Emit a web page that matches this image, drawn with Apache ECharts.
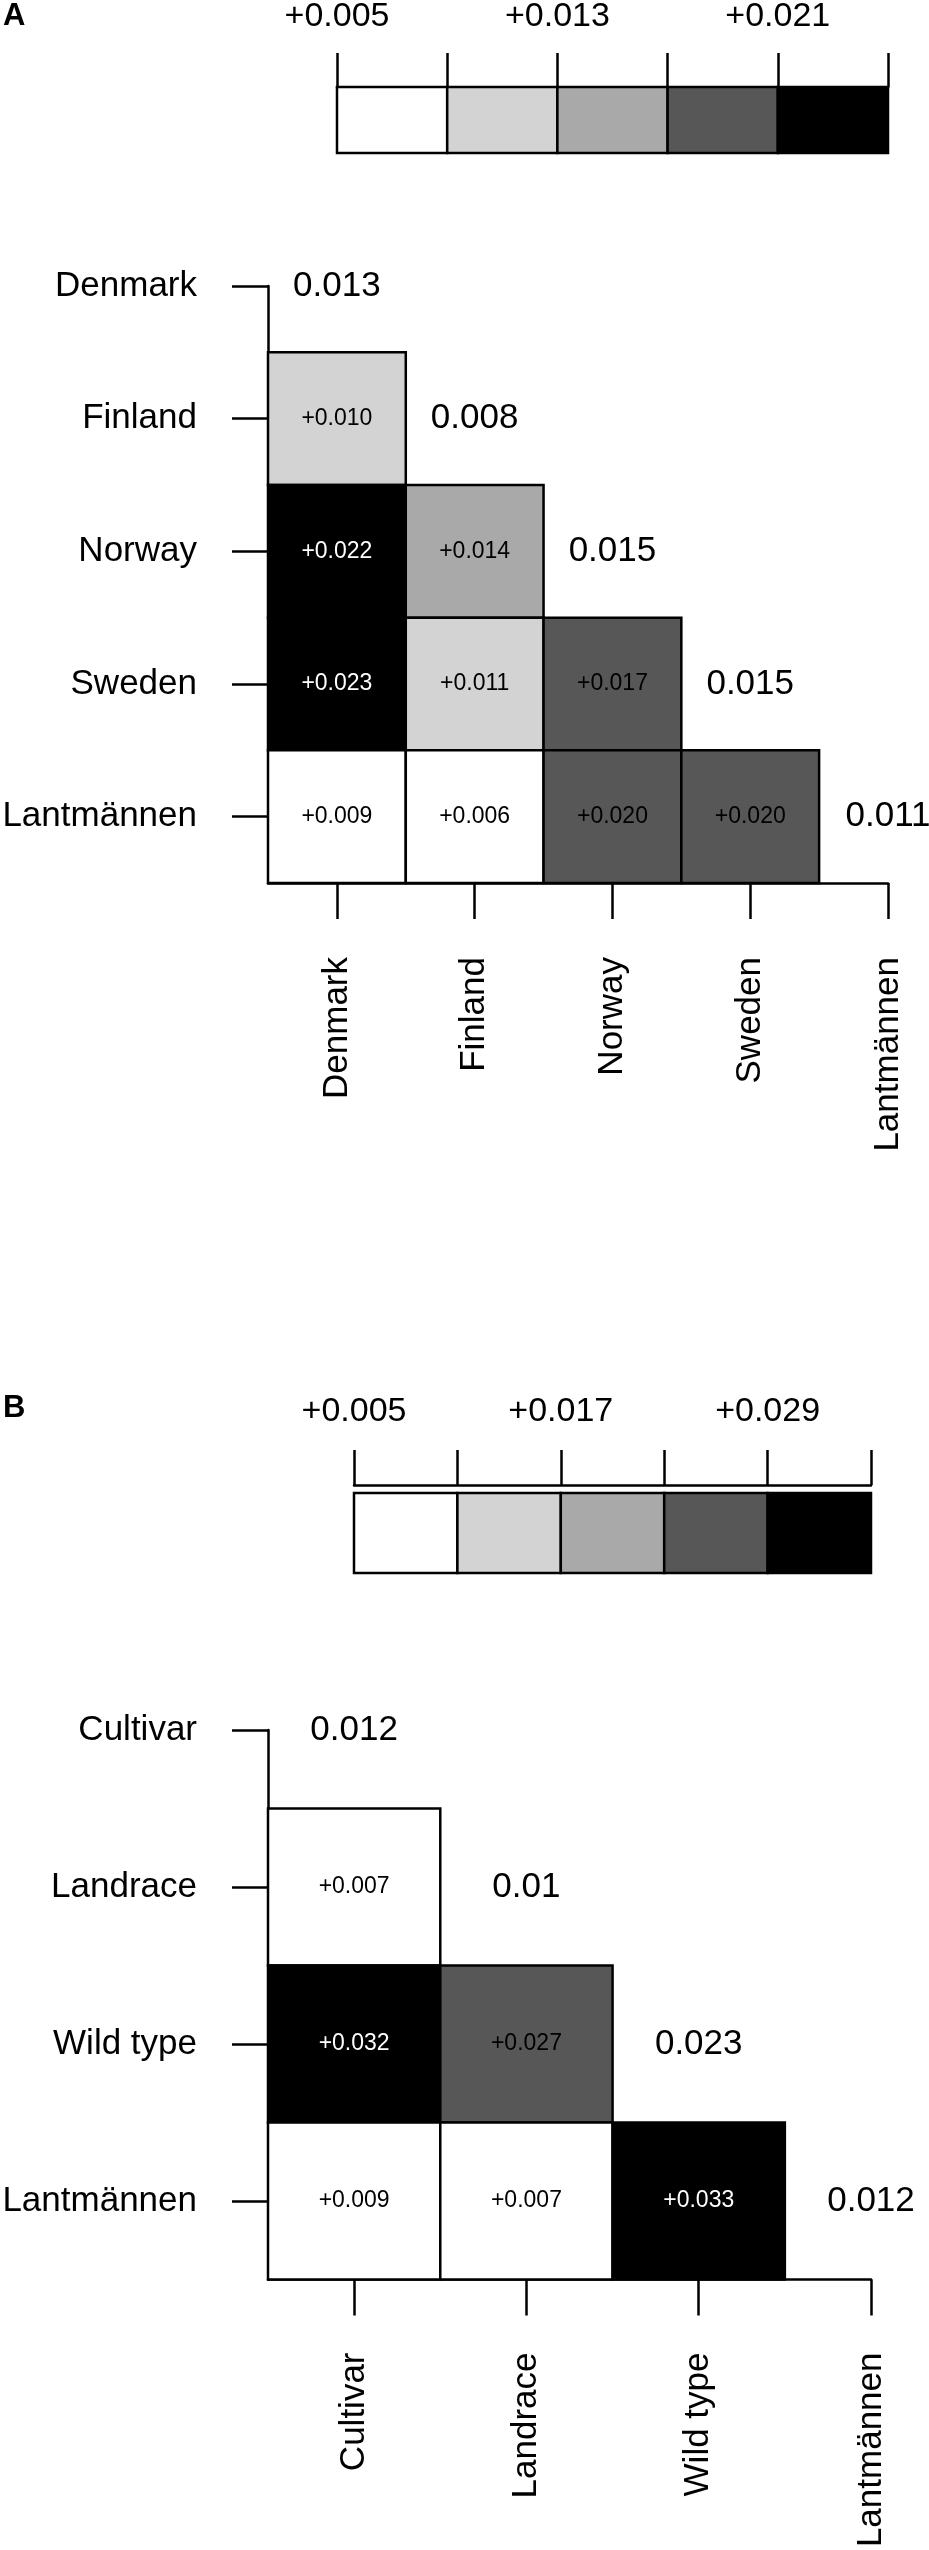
<!DOCTYPE html>
<html>
<head>
<meta charset="utf-8">
<script src="https://cdn.jsdelivr.net/npm/echarts@6.0.0/dist/echarts.min.js"></script>
<style>
  html, body { margin: 0; padding: 0; background: #fff; }
  #chart { width: 929px; height: 2550px; }
</style>
</head>
<body>
<div id="chart"></div>
<script>
// Panel A: countries
var namesA = ['Denmark', 'Finland', 'Norway', 'Sweden', 'Lantmännen'];
var diagA = [0.013, 0.008, 0.015, 0.015, 0.011];
// lower triangle, one array per row (Finland..Lantmännen), columns from Denmark
var pairsA = [
    [0.010],
    [0.022, 0.014],
    [0.023, 0.011, 0.017],
    [0.009, 0.006, 0.020, 0.020]
];
// grey class of each cell as drawn (0 = white ... 4 = black)
var shadeA = [
    [1],
    [4, 2],
    [4, 1, 3],
    [0, 0, 3, 3]
];
var breaksA = [0.005, 0.009, 0.013, 0.017, 0.021, 0.025];

// Panel B: material types
var namesB = ['Cultivar', 'Landrace', 'Wild type', 'Lantmännen'];
var diagB = [0.012, 0.01, 0.023, 0.012];
var pairsB = [
    [0.007],
    [0.032, 0.027],
    [0.009, 0.007, 0.033]
];
var shadeB = [
    [0],
    [4, 3],
    [0, 0, 4]
];
var breaksB = [0.005, 0.011, 0.017, 0.023, 0.029, 0.035];

var greys = ['#ffffff', '#d3d3d3', '#a9a9a9', '#575757', '#000000'];
var FONT = '"Liberation Sans", Arial, Helvetica, sans-serif';
var LW = 2.5;

function cellData(pairs, shades) {
    var out = [];
    pairs.forEach(function (row, r) {
        row.forEach(function (v, c) {
            out.push([c, r + 1, v, shades[r][c]]);
        });
    });
    return out;
}
function diagData(vals) {
    return vals.map(function (v, i) { return [i, i, v]; });
}
function keyData(breaks) {
    return breaks.slice(0, -1).map(function (b, i) { return [b, breaks[i + 1], i]; });
}
function idx(names) {
    return names.map(function (n, i) { return i; });
}

function renderCell(params, api) {
    var c = api.value(0), r = api.value(1), v = api.value(2), s = api.value(3);
    var p0 = api.coord([c - 0.5, r - 0.5]);
    var p1 = api.coord([c + 0.5, r + 0.5]);
    var x = Math.min(p0[0], p1[0]), y = Math.min(p0[1], p1[1]);
    var w = Math.abs(p1[0] - p0[0]), h = Math.abs(p1[1] - p0[1]);
    return {
        type: 'group',
        children: [
            { type: 'rect', shape: { x: x, y: y, width: w, height: h },
              style: { fill: greys[s], stroke: '#000', lineWidth: LW } },
            { type: 'text', x: x + w / 2, y: y + h / 2, z2: 10,
              style: { text: '+' + v.toFixed(3), fill: s === 4 ? '#fff' : '#000',
                       fontSize: 23, fontFamily: FONT, align: 'center', verticalAlign: 'middle' } }
        ]
    };
}

function renderDiag(params, api) {
    var p = api.coord([api.value(0), api.value(1)]);
    return {
        type: 'text', x: p[0], y: p[1],
        style: { text: String(api.value(2)), fill: '#000', fontSize: 35, fontFamily: FONT,
                 align: 'center', verticalAlign: 'middle' }
    };
}

function renderKey(params, api) {
    var p0 = api.coord([api.value(0), 1]);
    var p1 = api.coord([api.value(1), 0]);
    return {
        type: 'rect',
        shape: { x: p0[0], y: p0[1], width: p1[0] - p0[0], height: p1[1] - p0[1] },
        style: { fill: greys[api.value(2)], stroke: '#000', lineWidth: LW }
    };
}

var axisLine = { show: true, onZero: false, lineStyle: { color: '#000', width: LW } };
var tickStyle = { color: '#000', width: LW };

function keyAxis(grid, breaks, tickLen, margin, offset) {
    return {
        gridIndex: grid, type: 'value', position: 'top', offset: offset,
        min: breaks[0], max: breaks[breaks.length - 1],
        axisLine: axisLine,
        axisTick: { show: true, customValues: breaks, length: tickLen, lineStyle: tickStyle },
        axisLabel: {
            customValues: [breaks[0], breaks[2], breaks[4]],
            formatter: function (v) { return '+' + v.toFixed(3); },
            margin: margin, fontSize: 34, fontFamily: FONT, color: '#000'
        },
        splitLine: { show: false }
    };
}

function colAxis(grid, names, margin) {
    return {
        gridIndex: grid, type: 'value', position: 'bottom',
        min: -0.5, max: names.length - 1,
        axisLine: axisLine,
        axisTick: { show: true, customValues: idx(names), length: 36, lineStyle: tickStyle },
        axisLabel: {
            customValues: idx(names), rotate: 90, margin: margin,
            formatter: function (v) { return names[Math.round(v)]; },
            fontSize: 35, fontFamily: FONT, color: '#000'
        },
        splitLine: { show: false }
    };
}

function rowAxis(grid, names) {
    return {
        gridIndex: grid, type: 'value', inverse: true, position: 'left',
        min: 0, max: names.length - 0.5,
        axisLine: axisLine,
        axisTick: { show: true, customValues: idx(names), length: 36, lineStyle: tickStyle },
        axisLabel: {
            customValues: idx(names), margin: 71,
            formatter: function (v) { return names[Math.round(v)]; },
            fontSize: 35, fontFamily: FONT, color: '#000'
        },
        splitLine: { show: false }
    };
}

var hiddenY = function (grid) {
    return { gridIndex: grid, type: 'value', min: 0, max: 1, show: false };
};

var chart = echarts.init(document.getElementById('chart'));
chart.setOption({
    animation: false,
    backgroundColor: '#fff',
    title: [
        { text: 'A', left: 3, top: 1, padding: 0,
          textStyle: { fontSize: 31, fontWeight: 'bold', fontFamily: FONT, color: '#000' } },
        { text: 'B', left: 3, top: 1393, padding: 0,
          textStyle: { fontSize: 31, fontWeight: 'bold', fontFamily: FONT, color: '#000' } }
    ],
    grid: [
        { left: 337, top: 87, width: 551, height: 66, outerBoundsMode: 'none' },
        { left: 268, top: 286, width: 620, height: 597, outerBoundsMode: 'none' },
        { left: 354, top: 1493, width: 517, height: 80, outerBoundsMode: 'none' },
        { left: 268, top: 1730, width: 603, height: 549.5, outerBoundsMode: 'none' }
    ],
    xAxis: [
        keyAxis(0, breaksA, 34, 53, 0),
        colAxis(1, namesA, 74),
        keyAxis(2, breaksB, 35, 56, 8),
        colAxis(3, namesB, 73)
    ],
    yAxis: [
        hiddenY(0),
        rowAxis(1, namesA),
        hiddenY(2),
        rowAxis(3, namesB)
    ],
    series: [
        { type: 'custom', xAxisIndex: 0, yAxisIndex: 0, silent: true,
          renderItem: renderKey, data: keyData(breaksA) },
        { type: 'custom', xAxisIndex: 1, yAxisIndex: 1, silent: true,
          renderItem: renderCell, data: cellData(pairsA, shadeA) },
        { type: 'custom', xAxisIndex: 1, yAxisIndex: 1, silent: true,
          renderItem: renderDiag, data: diagData(diagA) },
        { type: 'custom', xAxisIndex: 2, yAxisIndex: 2, silent: true,
          renderItem: renderKey, data: keyData(breaksB) },
        { type: 'custom', xAxisIndex: 3, yAxisIndex: 3, silent: true,
          renderItem: renderCell, data: cellData(pairsB, shadeB) },
        { type: 'custom', xAxisIndex: 3, yAxisIndex: 3, silent: true,
          renderItem: renderDiag, data: diagData(diagB) }
    ]
});
</script>
</body>
</html>
